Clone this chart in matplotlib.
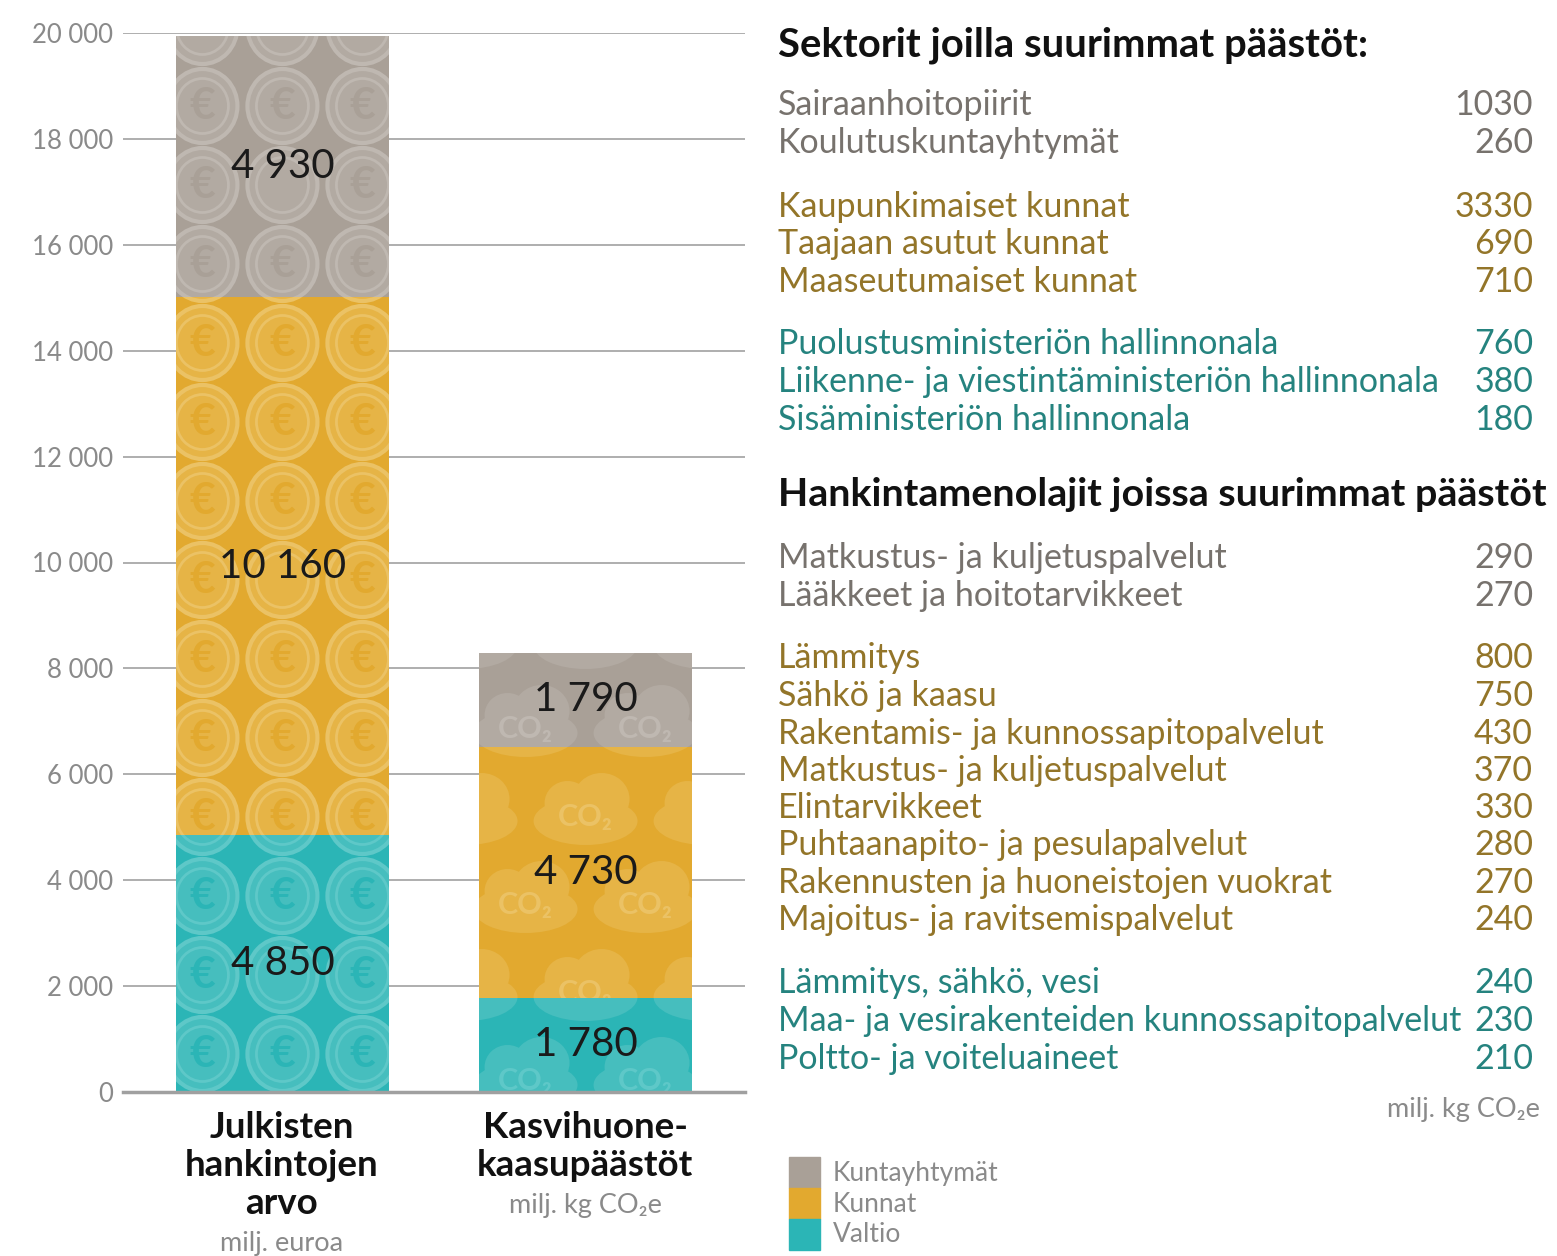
import matplotlib
matplotlib.use("Agg")
import matplotlib.pyplot as plt
from matplotlib.patches import Ellipse

W, H = 1557, 1256

# stacked bar data (bottom -> top)
bar_names = ["Julkisten\nhankintojen\narvo", "Kasvihuone-\nkaasupäästöt"]
bar_units = ["milj. euroa", "milj. kg CO₂e"]
groups = ["Valtio", "Kunnat", "Kuntayhtymät"]
valtio = [4850, 1780]
kunnat = [10160, 4730]
kuntayhtymat = [4930, 1790]

# right panel lists
sector_title = "Sektorit joilla suurimmat päästöt:"
sect_kuntayht = ["Sairaanhoitopiirit", "Koulutuskuntayhtymät"]
sect_kuntayht_val = [1030, 260]
sect_kunnat = ["Kaupunkimaiset kunnat", "Taajaan asutut kunnat", "Maaseutumaiset kunnat"]
sect_kunnat_val = [3330, 690, 710]
sect_valtio = ["Puolustusministeriön hallinnonala",
               "Liikenne- ja viestintäministeriön hallinnonala",
               "Sisäministeriön hallinnonala"]
sect_valtio_val = [760, 380, 180]

cat_title = "Hankintamenolajit joissa suurimmat päästöt"
cat_kuntayht = ["Matkustus- ja kuljetuspalvelut", "Lääkkeet ja hoitotarvikkeet"]
cat_kuntayht_val = [290, 270]
cat_kunnat = ["Lämmitys", "Sähkö ja kaasu", "Rakentamis- ja kunnossapitopalvelut",
              "Matkustus- ja kuljetuspalvelut", "Elintarvikkeet",
              "Puhtaanapito- ja pesulapalvelut", "Rakennusten ja huoneistojen vuokrat",
              "Majoitus- ja ravitsemispalvelut"]
cat_kunnat_val = [800, 750, 430, 370, 330, 280, 270, 240]
cat_valtio = ["Lämmitys, sähkö, vesi", "Maa- ja vesirakenteiden kunnossapitopalvelut",
              "Poltto- ja voiteluaineet"]
cat_valtio_val = [240, 230, 210]

col_grey = "#a9a097"
col_gold = "#e2a92f"
col_teal = "#2bb5b6"
txt_grey = "#77726d"
txt_gold = "#937529"
txt_teal = "#25837f"
# lighter tints for the coin / cloud motifs
tint = {col_teal: ("#46bebe", "#5ec8c8"), col_gold: ("#e6b446", "#ebc265"),
        col_grey: ("#b2aaa2", "#bfb8b1")}

plt.rcParams['font.family'] = ['Lato', 'DejaVu Sans']

fig = plt.figure(figsize=(W / 100, H / 100), dpi=100)

def fx(x):
    return x / W

def fy(y):
    return 1 - y / H

ax = fig.add_axes([fx(123), fy(1092), fx(745) - fx(123), fy(33) - fy(1092)])
ax.set_ylim(0, 20000)
ax.set_xlim(-0.526, 1.526)
ax.set_yticks(range(0, 20001, 2000))
ax.set_yticklabels([f"{v:,}".replace(",", " ") for v in range(0, 20001, 2000)],
                   fontsize=18.5, color="#8a8a8a")
ax.tick_params(axis="y", length=0, pad=7)
ax.tick_params(axis="x", length=0)
ax.set_xticks([])
ax.grid(axis="y", color="#a8a8a8", linewidth=1.3)
ax.set_axisbelow(True)
for s in ["top", "right", "left"]:
    ax.spines[s].set_visible(False)
ax.spines["bottom"].set_color("#a0a0a0")
ax.spines["bottom"].set_linewidth(2.5)

# pixel -> data scale factors
px_x = 2.052 / 622
px_y = 20000 / 1059

def in_segment(patch, y, margin_px):
    lo = patch.get_y() + margin_px * px_y
    hi = patch.get_y() + patch.get_height() - margin_px * px_y
    return lo <= y <= hi

def under_label(patch, y, dx):
    # centre coin hidden behind the value label
    mid = patch.get_y() + patch.get_height() / 2
    return dx == 0 and abs(y - mid) < 45 * px_y

def coins(patch, base, total):
    face, ring = tint[base]
    x0 = patch.get_x() + patch.get_width() / 2
    y = 38 * px_y
    while y < total + 60 * px_y:
        for dx in (-80, 0, 80):
            cx = x0 + dx * px_x
            e = Ellipse((cx, y), 70 * px_x, 74 * px_y, facecolor=face,
                        edgecolor=ring, linewidth=3, zorder=2)
            ax.add_patch(e)
            e.set_clip_path(patch)
            inner = Ellipse((cx, y), 52 * px_x, 55 * px_y, facecolor="none",
                            edgecolor=ring, linewidth=2, zorder=2)
            ax.add_patch(inner)
            inner.set_clip_path(patch)
            if in_segment(patch, y, 10) and not under_label(patch, y, dx):
                t = ax.text(cx, y, "€", ha="center", va="center", fontsize=32,
                            fontweight="bold", color=base, zorder=2, clip_on=True)
                t.set_clip_path(patch)
        y += 79 * px_y

def clouds(patch, base, total):
    face, ring = tint[base]
    x0 = patch.get_x() + patch.get_width() / 2
    y = 15 * px_y
    row = 0
    while y < total + 60 * px_y:
        shift = 0 if row % 2 == 0 else 60
        for dx in (-180, -60, 60, 180):
            cx = x0 + (dx + shift) * px_x
            for ox, oy, w, h in [(0, -8, 104, 48), (-18, 10, 46, 44), (16, 14, 56, 52)]:
                e = Ellipse((cx + ox * px_x, y + oy * px_y), w * px_x, h * px_y,
                            facecolor=face, edgecolor="none", zorder=2)
                ax.add_patch(e)
                e.set_clip_path(patch)
            if abs(dx + shift) <= 80 and in_segment(patch, y, 8):
                t = ax.text(cx, y - 4 * px_y, "CO₂", ha="center", va="center",
                            fontsize=22, fontweight="bold", color=ring, zorder=2,
                            clip_on=True)
                t.set_clip_path(patch)
        y += 88 * px_y
        row += 1

x = [0, 1]
bw = 0.703
bottom = [0, 0]
for vals, c in [(valtio, col_teal), (kunnat, col_gold), (kuntayhtymat, col_grey)]:
    bars = ax.bar(x, vals, bw, bottom=bottom, color=c, linewidth=0, zorder=1)
    coins(bars[0], c, valtio[0] + kunnat[0] + kuntayhtymat[0])
    clouds(bars[1], c, valtio[1] + kunnat[1] + kuntayhtymat[1])
    for i, b in enumerate(bars):
        ax.text(b.get_x() + b.get_width() / 2, bottom[i] + vals[i] / 2,
                f"{vals[i]:,}".replace(",", " "), ha="center", va="center",
                fontsize=29, color="#1a1a1a", zorder=5)
    bottom = [bottom[i] + vals[i] for i in range(2)]

# category labels below bars
for cx, name, unit, uy in [(282, bar_names[0], bar_units[0], 1243),
                           (585, bar_names[1], bar_units[1], 1206)]:
    for k, line in enumerate(name.split("\n")):
        fig.text(fx(cx), fy(1128 + 38 * k), line, ha="center", va="center",
                 fontsize=26.5, fontweight="bold", color="#111111")
    fig.text(fx(cx), fy(uy), unit, ha="center", va="center", fontsize=19.5,
             color="#8a8a8a")

# right panel
lx, rx = 778, 1533
fig.text(fx(lx), fy(45), sector_title, ha="left", va="center", fontsize=28.8,
         fontweight="bold", color="#111111")
fig.text(fx(lx), fy(495), cat_title, ha="left", va="center", fontsize=28.4,
         fontweight="bold", color="#111111")

def rows(names, vals, ys, col):
    for n, v, y in zip(names, vals, ys):
        fig.text(fx(lx), fy(y), n, ha="left", va="center", fontsize=24.5, color=col)
        fig.text(fx(rx), fy(y), str(v), ha="right", va="center", fontsize=24.5, color=col)

rows(sect_kuntayht, sect_kuntayht_val, [105, 143], txt_grey)
rows(sect_kunnat, sect_kunnat_val, [207, 244, 282], txt_gold)
rows(sect_valtio, sect_valtio_val, [344, 382, 420], txt_teal)
rows(cat_kuntayht, cat_kuntayht_val, [558, 596], txt_grey)
rows(cat_kunnat, cat_kunnat_val, [658, 696, 734, 771, 808, 845, 883, 920], txt_gold)
rows(cat_valtio, cat_valtio_val, [983, 1021, 1059], txt_teal)

fig.text(fx(1540), fy(1110), "milj. kg CO₂e", ha="right", va="center",
         fontsize=19.5, color="#8a8a8a")

# legend as stacked swatch
for (y0, c, lab) in [(1157, col_grey, groups[2]), (1188, col_gold, groups[1]),
                     (1219, col_teal, groups[0])]:
    fig.patches.append(plt.Rectangle((fx(789), fy(y0 + 31)), fx(31), 31 / H,
                                     transform=fig.transFigure, color=c))
    fig.text(fx(833), fy(y0 + 16), lab, ha="left", va="center", fontsize=19,
             color="#8a8a8a")

fig.savefig("out.png", dpi=100)
